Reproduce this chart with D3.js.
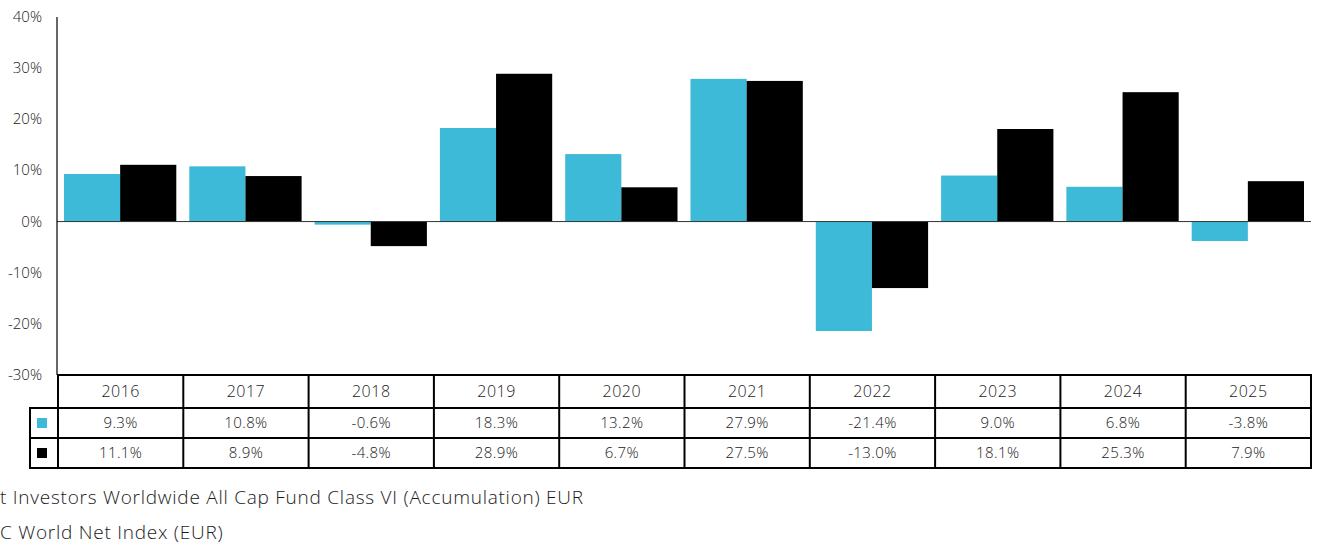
<!DOCTYPE html>
<html>
<head>
<meta charset="utf-8">
<script src="https://cdn.jsdelivr.net/npm/d3@7"></script>
<style>
  body { margin: 0; background: #fff; }
  svg { display: block; font-family: "Open Sans", "Noto Sans", sans-serif; font-weight: 350; }
</style>
</head>
<body>
<svg id="chart" width="1319" height="545"></svg>
<script>
const years = ["2016", "2017", "2018", "2019", "2020", "2021", "2022", "2023", "2024", "2025"];
const fund = [9.3, 10.8, -0.6, 18.3, 13.2, 27.9, -21.4, 9.0, 6.8, -3.8];
const index = [11.1, 8.9, -4.8, 28.9, 6.7, 27.5, -13.0, 18.1, 25.3, 7.9];
const yTicks = [40, 30, 20, 10, 0, -10, -20, -30];
const seriesNames = [
  "t Investors Worldwide All Cap Fund Class VI (Accumulation) EUR",
  "C World Net Index (EUR)"
];
const colors = ["#3dbad7", "#000000"];

const svg = d3.select("#chart");
const plotL = 58, plotR = 1311, plotT = 17, plotB = 375;

const x = d3.scaleBand().domain(years).range([plotL, plotR]).paddingInner(0).paddingOuter(0);
const inner = d3.scaleBand().domain([0, 1]).range([6, x.bandwidth() - 7]);
const y = d3.scaleLinear().domain([-30, 40]).range([plotB, plotT]);

// y tick labels
svg.append("g").selectAll("text")
  .data(yTicks)
  .join("text")
  .attr("x", 42)
  .attr("y", d => y(d) + 5)
  .attr("text-anchor", "end")
  .attr("font-size", 15)
  .attr("fill", "#1a1a1a")
  .text(d => d + "%");

// bars
const series = [fund, index];
series.forEach((vals, si) => {
  svg.append("g").selectAll("rect")
    .data(vals)
    .join("rect")
    .attr("x", (d, i) => x(years[i]) + inner(si))
    .attr("width", inner.bandwidth())
    .attr("y", d => y(Math.max(0, d)))
    .attr("height", d => Math.abs(y(d) - y(0)))
    .attr("fill", colors[si]);
});

// zero line and y axis line
svg.append("line")
  .attr("x1", plotL - 1).attr("x2", plotR)
  .attr("y1", y(0)).attr("y2", y(0))
  .attr("stroke", "#333").attr("stroke-width", 1);
svg.append("line")
  .attr("x1", plotL - 1).attr("x2", plotL - 1)
  .attr("y1", plotT).attr("y2", plotB)
  .attr("stroke", "#000").attr("stroke-width", 1.2);

// table
const rowH = [33, 30, 30];
const rowY = [plotB, plotB + rowH[0], plotB + rowH[0] + rowH[1]];
const legX = 30;
const table = svg.append("g");

// header row
table.selectAll(".hdr")
  .data(years)
  .join("text")
  .attr("x", d => x(d) + x.bandwidth() / 2)
  .attr("y", rowY[0] + 22)
  .attr("text-anchor", "middle")
  .attr("font-size", 16)
  .attr("letter-spacing", 0.5)
  .attr("fill", "#1a1a1a")
  .text(d => d);

series.forEach((vals, si) => {
  const ry = rowY[si + 1];
  table.append("g").selectAll("text")
    .data(vals)
    .join("text")
    .attr("x", (d, i) => x(years[i]) + x.bandwidth() / 2)
    .attr("y", ry + 20)
    .attr("text-anchor", "middle")
    .attr("font-size", 15)
    .attr("letter-spacing", 0.4)
    .attr("fill", "#1a1a1a")
    .text(d => d.toFixed(1) + "%");
  table.append("rect")
    .attr("x", 37).attr("y", ry + 10)
    .attr("width", 10).attr("height", 10)
    .attr("fill", colors[si]);
});

// grid lines of table
const lineG = table.append("g").attr("stroke", "#000").attr("stroke-width", 2).attr("fill", "none");
lineG.append("rect").attr("x", plotL).attr("y", rowY[0]).attr("width", plotR - plotL).attr("height", rowH[0]);
lineG.append("rect").attr("x", legX).attr("y", rowY[1]).attr("width", plotR - legX).attr("height", rowH[1] + rowH[2]);
lineG.append("line").attr("x1", legX).attr("x2", plotR).attr("y1", rowY[2]).attr("y2", rowY[2]);
lineG.selectAll(".v")
  .data(years)
  .join("line")
  .attr("x1", d => x(d)).attr("x2", d => x(d))
  .attr("y1", rowY[0]).attr("y2", rowY[2] + rowH[2]);

// legend text
svg.append("g").selectAll("text")
  .data(seriesNames)
  .join("text")
  .attr("x", 0)
  .attr("y", (d, i) => 504 + i * 35)
  .attr("font-size", 19)
  .attr("letter-spacing", 0.75)
  .attr("fill", "#1a1a1a")
  .text(d => d);
</script>
</body>
</html>
